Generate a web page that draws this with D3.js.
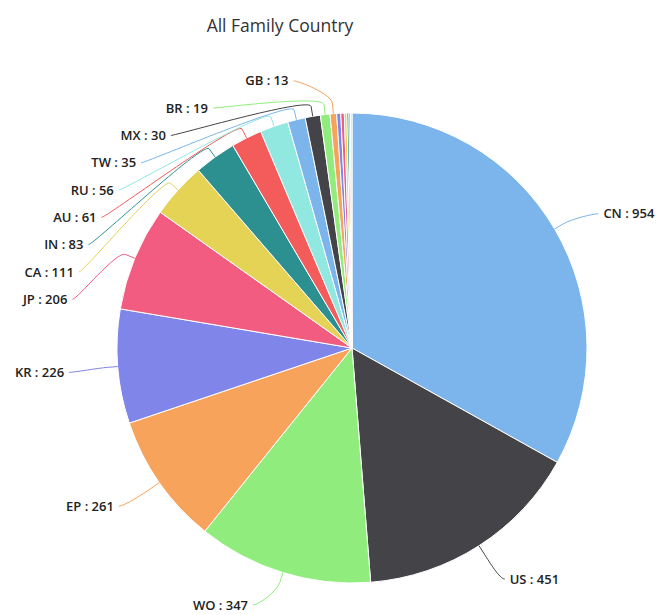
<!DOCTYPE html>
<html>
<head>
<meta charset="utf-8">
<script src="https://cdn.jsdelivr.net/npm/d3@7"></script>
<style>
  body { margin: 0; background: #fff; }
  svg { display: block; }
</style>
</head>
<body>
<svg id="chart" width="656" height="615"></svg>
<script>
// Family counts per country / office
const countries = ["CN", "US", "WO", "EP", "KR", "JP", "CA", "IN", "AU", "RU", "TW", "MX", "BR", "GB", "DE", "FR", "SG", "IL", "CH", "NL"];
const counts    = [954, 451, 347, 261, 226, 206, 111, 83, 61, 56, 35, 30, 19, 13, 8, 7, 5, 4, 3, 3];
const palette   = ["#7cb5ec", "#434348", "#90ed7d", "#f7a35c", "#8085e9", "#f15c80", "#e4d354", "#2b908f", "#f45b5b", "#91e8e1"];
const chartTitle = "All Family Country";
const minLabelled = 13;   // smaller slices are too thin to carry a label

const width = 656, height = 615;
const cx = 352, cy = 348, radius = 235;
const labelDistance = 36, labelStep = 27.3, labelShift = 3, breakOffset = 10;
const labelMaxY = height - 10;
const labelFont = "'Open Sans', 'DejaVu Sans', sans-serif";

const data = countries.map((c, i) => ({ name: c, value: counts[i], color: palette[i % palette.length] }));

const svg = d3.select("#chart");

svg.append("text")
  .attr("x", 280).attr("y", 32)
  .attr("text-anchor", "middle")
  .attr("font-family", labelFont)
  .attr("font-size", 17.5)
  .attr("fill", "#333333")
  .text(chartTitle);

const pie = d3.pie().value(d => d.value).sort(null).startAngle(0).endAngle(2 * Math.PI);
const arcs = pie(data);
const arc = d3.arc().innerRadius(0).outerRadius(radius);

const g = svg.append("g");
const pieG = g.append("g").attr("transform", `translate(${cx},${cy})`);

pieG.selectAll("path.slice")
  .data(arcs)
  .join("path")
  .attr("class", "slice")
  .attr("d", arc)
  .attr("fill", d => d.data.color)
  .attr("stroke", "#ffffff")
  .attr("stroke-width", 1)
  .attr("stroke-linejoin", "round");

// Outside label placement: natural position on a ring, then pushed apart vertically
const polar = (a, rr) => [cx + rr * Math.sin(a), cy - rr * Math.cos(a)];
const labelled = arcs.filter(d => d.data.value >= minLabelled).map(d => {
  const mid = (d.startAngle + d.endAngle) / 2;
  const nat = polar(mid, radius + labelDistance);
  return { d, mid, left: mid > Math.PI, y: Math.min(labelMaxY, nat[1] + labelShift) };
});

["left", "right"].forEach(side => {
  const group = labelled.filter(l => (side === "left") === l.left).sort((a, b) => a.y - b.y);
  for (let i = 1; i < group.length; i++) {
    group[i].y = Math.max(group[i].y, group[i - 1].y + labelStep);
  }
});

labelled.forEach(l => {
  const R = radius + labelDistance;
  const dy = l.y - cy;
  const dx = Math.sqrt(Math.max(0, R * R - dy * dy));
  const ax = cx + (l.left ? -dx : dx);
  l.lineX = ax + (l.left ? -13 : 11);
  l.textX = l.lineX + (l.left ? -5 : 5);
  l.touch = polar(l.mid, radius);
  l.brk = polar(l.mid, radius + breakOffset);
});

const connector = l => {
  const p = d3.path();
  p.moveTo(l.lineX, l.y);
  p.bezierCurveTo(
    l.lineX + (l.left ? 5 : -5), l.y,
    2 * l.brk[0] - l.touch[0], 2 * l.brk[1] - l.touch[1],
    l.brk[0], l.brk[1]);
  p.lineTo(l.touch[0], l.touch[1]);
  return p.toString();
};

g.selectAll("path.connector")
  .data(labelled)
  .join("path")
  .attr("class", "connector")
  .attr("d", connector)
  .attr("fill", "none")
  .attr("stroke", l => l.d.data.color)
  .attr("stroke-width", 1);

g.selectAll("text.label")
  .data(labelled)
  .join("text")
  .attr("class", "label")
  .attr("x", l => l.textX)
  .attr("y", l => l.y)
  .attr("dy", "0.35em")
  .attr("text-anchor", l => l.left ? "end" : "start")
  .attr("font-family", labelFont)
  .attr("font-size", 13)
  .attr("font-weight", 600)
  .attr("fill", "#222222")
  .text(l => `${l.d.data.name} : ${l.d.data.value}`);
</script>
</body>
</html>
